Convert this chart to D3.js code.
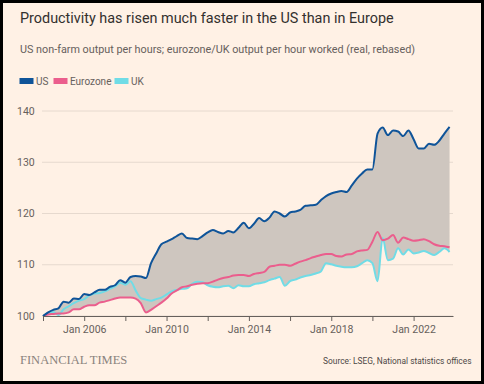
<!DOCTYPE html>
<html>
<head>
<meta charset="utf-8">
<script src="https://cdn.jsdelivr.net/npm/d3@7"></script>
<style>
  html, body { margin: 0; padding: 0; background: #fff1e5; }
  #chart { width: 484px; height: 384px; }
  text { font-family: "Roboto", "Liberation Sans", sans-serif; }
</style>
</head>
<body>
<div id="chart"></div>
<script>
// quarterly, 2004 Q1 = 100
var years = d3.range(2004, 2024)
var us = [
  100, 100.7, 101.2, 101.5,
  102.8, 102.6, 103.4, 103.3,
  104.3, 104.1, 104.6, 105.1,
  105.1, 105.7, 106.0, 107.0,
  106.5, 107.6, 107.8, 107.7,
  107.4, 110.3, 112.2, 114.0,
  114.5, 115.0, 115.6, 116.1,
  115.2, 115.1, 115.0, 115.6,
  116.3, 116.8, 116.4, 116.1,
  116.6, 116.3, 117.2, 118.2,
  117.1, 118.0, 119.1, 118.5,
  119.2, 120.4, 120.0, 119.4,
  120.2, 120.4, 120.7, 121.5,
  121.6, 121.7, 122.6, 123.4,
  123.9, 124.2, 124.4, 124.2,
  125.5, 126.8, 127.8, 128.6,
  128.6, 135.6, 136.8, 135.3,
  136.2, 136.0, 135.1, 136.2,
  134.5, 132.7, 132.7, 133.6,
  133.4, 134.2, 135.6, 136.9
]
var eurozone = [
  100, 100.3, 100.4, 100.5,
  100.5, 100.7, 101.3, 101.3,
  101.8, 102.1, 102.1, 102.6,
  102.8, 103.1, 103.4, 103.6,
  103.6, 103.6, 103.4, 102.5,
  100.7, 101.2, 101.9, 102.6,
  103.4, 104.4, 105.0, 105.6,
  105.8, 106.1, 106.3, 106.4,
  106.4, 106.7, 107.1, 107.4,
  107.6, 107.9, 108.0, 108.0,
  107.8, 108.2, 108.4, 108.6,
  109.6, 109.8, 110.0, 110.0,
  109.8, 110.2, 110.6, 110.9,
  111.3, 111.6, 111.9, 112.1,
  112.1, 111.7, 111.6, 112.0,
  112.1, 112.6, 112.8, 112.9,
  114.5, 116.4, 114.8, 115.1,
  115.8, 114.3, 115.3, 115.0,
  114.7, 114.8, 115.0, 114.6,
  114.0, 113.7, 113.6, 113.4
]
var uk = [
  100, 100.6, 100.8, 100.2,
  101.3, 101.9, 102.5, 103.0,
  103.3, 104.0, 104.4, 104.5,
  104.8, 105.3, 105.8, 106.5,
  106.1, 106.8, 105.0, 103.5,
  103.2, 103.0, 103.3, 103.6,
  104.2, 104.8, 105.1, 105.3,
  105.4, 106.3, 106.7, 106.6,
  106.0, 105.7, 105.6, 105.8,
  105.9, 105.4, 106.0, 105.8,
  105.8, 106.2, 106.4, 106.6,
  107.0, 107.3, 107.6, 105.9,
  106.8, 107.1, 107.5, 107.8,
  108.0, 108.3, 108.7, 110.3,
  110.1, 109.8, 109.6, 109.5,
  109.5, 109.7, 110.3, 110.9,
  110.3, 106.8, 115.2, 110.9,
  111.2, 113.2, 112.0, 113.0,
  112.2, 112.4, 112.7, 112.3,
  111.9, 112.5, 113.2, 112.5
]
var y_ticks = [100, 110, 120, 130, 140]
var x_ticks = d3.range(2004, 2024, 2)
var x_labels = [2006, 2010, 2014, 2018, 2022]

var series_names = ['US', 'Eurozone', 'UK']
var colors = ['#0f5499', '#eb5e8d', '#70dce6']

var width = 484
var height = 384

var dates = []
years.forEach(function(y){
  for (var q = 0; q < 4; q++) dates.push(new Date(y, q * 3, 1))
})

var rows = dates.map(function(d, i){
  return { date: d, us: us[i], ez: eurozone[i], uk: uk[i] }
})

var svg = d3.select('#chart')
  .append('svg')
  .attr('width', width)
  .attr('height', height)

svg.append('rect')
  .attr('x', 1.5).attr('y', 1.5)
  .attr('width', width - 3).attr('height', height - 3)
  .attr('fill', '#fff1e5')
  .attr('stroke', '#000')
  .attr('stroke-width', 3)

var x = d3.scaleTime()
  .domain([new Date(2004, 0, 1), new Date(2023, 11, 1)])
  .range([43, 453])

var y = d3.scaleLinear()
  .domain([100, 140])
  .range([316, 111])

// title block
svg.append('text')
  .attr('x', 20).attr('y', 23)
  .attr('font-size', 14.4)
  .attr('fill', '#33302e')
  .text('Productivity has risen much faster in the US than in Europe')

svg.append('text')
  .attr('x', 20).attr('y', 53)
  .attr('font-size', 10.8)
  .attr('fill', '#66605c')
  .text('US non-farm output per hours; eurozone/UK output per hour worked (real, rebased)')

// legend
var legend_x = [19.5, 53.5, 114.5]
series_names.forEach(function(name, i){
  var g = svg.append('g').attr('transform', 'translate(' + legend_x[i] + ',78)')
  g.append('rect').attr('width', 14).attr('height', 6).attr('fill', colors[i])
  g.append('text')
    .attr('x', 16.5).attr('y', 7)
    .attr('font-size', 10)
    .attr('fill', '#66605c')
    .text(name)
})

// gridlines + y labels
svg.append('g')
  .selectAll('line')
  .data(y_ticks)
  .enter()
  .append('line')
  .attr('x1', 42).attr('x2', 453)
  .attr('y1', function(d){ return y(d) })
  .attr('y2', function(d){ return y(d) })
  .attr('stroke', '#e6d9ce')
  .attr('stroke-width', 1)

svg.append('g')
  .selectAll('text')
  .data(y_ticks)
  .enter()
  .append('text')
  .attr('x', 17)
  .attr('y', function(d){ return y(d) })
  .attr('dy', '0.35em')
  .attr('font-size', 10.5)
  .attr('fill', '#66605c')
  .text(function(d){ return d })

// band between highest and lowest series
var area = d3.area()
  .x(function(d){ return x(d.date) })
  .y0(function(d){ return y(Math.min(d.us, d.ez, d.uk)) })
  .y1(function(d){ return y(Math.max(d.us, d.ez, d.uk)) })
  .curve(d3.curveMonotoneX)

svg.append('path')
  .datum(rows)
  .attr('d', area)
  .attr('fill', '#cec6bf')

var keys = ['us', 'ez', 'uk']
var draw_order = [2, 1, 0]
draw_order.forEach(function(i){
  var line = d3.line()
    .x(function(d){ return x(d.date) })
    .y(function(d){ return y(d[keys[i]]) })
    .curve(d3.curveMonotoneX)
  svg.append('path')
    .datum(rows)
    .attr('d', line)
    .attr('fill', 'none')
    .attr('stroke', colors[i])
    .attr('stroke-width', 2)
    .attr('stroke-linejoin', 'round')
})

// x axis
var x_axis = d3.axisBottom(x)
  .tickValues(x_ticks.map(function(yr){ return new Date(yr, 0, 1) }))
  .tickSize(5)
  .tickSizeOuter(0)
  .tickFormat(function(d){
    return x_labels.indexOf(d.getFullYear()) >= 0 ? 'Jan ' + d.getFullYear() : ''
  })

var xg = svg.append('g')
  .attr('transform', 'translate(0,316)')
  .call(x_axis)
xg.select('.domain').attr('stroke', '#66605c')
xg.selectAll('.tick line').attr('stroke', '#66605c')
xg.selectAll('.tick text')
  .attr('font-size', 10.5)
  .style('font-family', 'Roboto, sans-serif')
  .attr('fill', '#66605c')
  .attr('dy', '0.9em')

// footer
svg.append('text')
  .attr('x', 20).attr('y', 364)
  .attr('font-size', 12.5)
  .style('font-family', '"Liberation Serif", "DejaVu Serif", serif')
  .attr('fill', '#8a837d')
  .text('FINANCIAL TIMES')

svg.append('text')
  .attr('x', 471.5).attr('y', 364)
  .attr('text-anchor', 'end')
  .attr('font-size', 8.4)
  .attr('fill', '#4d4845')
  .text('Source: LSEG, National statistics offices')
</script>
</body>
</html>
